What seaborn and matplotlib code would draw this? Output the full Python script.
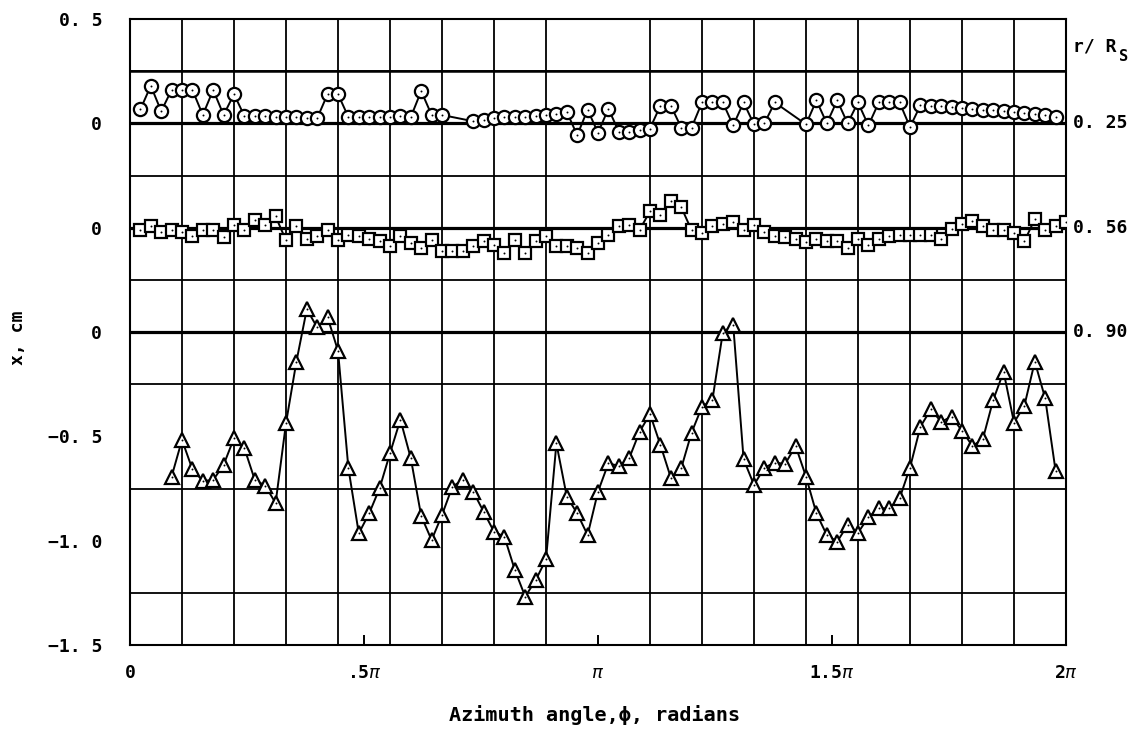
import numpy as np
import matplotlib
matplotlib.use('Agg')
import matplotlib.pyplot as plt
from matplotlib.ticker import MultipleLocator
import seaborn as sns

sns.set_style('white')
plt.rcParams['font.family'] = ['DejaVu Sans Mono', 'DejaVu Sans']
plt.rcParams['text.color'] = 'black'
plt.rcParams['axes.labelcolor'] = 'black'
plt.rcParams['xtick.color'] = 'black'
plt.rcParams['ytick.color'] = 'black'

# r/Rs = 0.25 (circles), azimuth in degrees, x in cm
circ_deg = list(range(4, 121, 4)) + list(range(132, 249, 4)) + list(range(260, 357, 4))
circ_x = [0.067, 0.18, 0.058, 0.16, 0.16, 0.16, 0.04, 0.16, 0.04, 0.14,
          0.035, 0.035, 0.035, 0.03, 0.03, 0.03, 0.025, 0.025, 0.14, 0.14,
          0.03, 0.03, 0.03, 0.03, 0.03, 0.035, 0.03, 0.155, 0.04, 0.04,
          0.01, 0.015, 0.025, 0.03, 0.03, 0.03, 0.035, 0.04, 0.045, 0.055,
          -0.057, 0.065, -0.045, 0.07, -0.04, -0.04, -0.03, -0.025, 0.085, 0.085,
          -0.02, -0.02, 0.1, 0.1, 0.1, -0.01, 0.1, -0.005, 0.0, 0.1,
          -0.005, 0.11, 0.0, 0.11, 0.0, 0.1, -0.01, 0.1, 0.1, 0.1,
          -0.018, 0.086, 0.081, 0.081, 0.078, 0.075, 0.07, 0.066, 0.062, 0.057,
          0.054, 0.05, 0.046, 0.038, 0.03]

# r/Rs = 0.56 (squares)
sq_deg = list(range(4, 361, 4))
sq_x = [-0.013, 0.006, -0.021, -0.013, -0.021, -0.038, -0.013, -0.01, -0.045, 0.014,
        -0.013, 0.038, 0.014, 0.054, -0.061, 0.006, -0.054, -0.042, -0.013, -0.061,
        -0.034, -0.042, -0.054, -0.065, -0.09, -0.042, -0.073, -0.097, -0.061, -0.113,
        -0.113, -0.113, -0.09, -0.066, -0.081, -0.121, -0.061, -0.121, -0.066, -0.042,
        -0.09, -0.09, -0.097, -0.121, -0.073, -0.034, 0.006, 0.014, -0.01, 0.078,
        0.062, 0.126, 0.099, -0.013, -0.025, 0.006, 0.019, 0.025, -0.013, 0.014,
        -0.023, -0.042, -0.045, -0.054, -0.07, -0.054, -0.066, -0.066, -0.097, -0.054,
        -0.081, -0.054, -0.042, -0.034, -0.034, -0.034, -0.034, -0.054, -0.006, 0.019,
        0.03, 0.01, -0.013, -0.01, -0.025, -0.066, 0.042, -0.013, 0.006, 0.025]

# r/Rs = 0.90 (triangles)
tri_deg = list(range(16, 357, 4))
tri_x = [-0.693, -0.517, -0.658, -0.714, -0.709, -0.637, -0.509, -0.557, -0.709, -0.736,
         -0.82, -0.437, -0.142, 0.109, 0.022, 0.07, -0.09, -0.653, -0.965, -0.869,
         -0.749, -0.581, -0.42, -0.605, -0.882, -0.997, -0.877, -0.741, -0.709, -0.765,
         -0.861, -0.957, -0.981, -1.14, -1.268, -1.19, -1.09, -0.534, -0.789, -0.869,
         -0.973, -0.765, -0.629, -0.642, -0.605, -0.478, -0.393, -0.541, -0.698, -0.653,
         -0.482, -0.358, -0.326, -0.003, 0.034, -0.61, -0.733, -0.65, -0.626, -0.632,
         -0.546, -0.693, -0.869, -0.973, -1.005, -0.925, -0.962, -0.888, -0.845, -0.845,
         -0.797, -0.65, -0.454, -0.371, -0.43, -0.406, -0.473, -0.546, -0.514, -0.326,
         -0.19, -0.434, -0.353, -0.142, -0.318, -0.666]

radius_labels = ['0. 25', '0. 56', '0. 90']
offsets = [1.0, 0.5, 0.0]
markers = ['o', 's', '^']
msizes = [9.5, 8, 10]

x_tick_labels = ['0', '.5$\\pi$', '$\\pi$', '1.5$\\pi$', '2$\\pi$']
y_tick_labels = ['\u22121. 5', '\u22121. 0', '\u22120. 5', '0', '0', '0', '0. 5']

fig = plt.figure(figsize=(11.3, 7.46), dpi=100)
ax = fig.add_axes([130 / 1130, 1 - 645 / 746, 936 / 1130, 626 / 746])

# grid
ax.xaxis.set_minor_locator(MultipleLocator(np.pi / 9))
ax.yaxis.set_minor_locator(MultipleLocator(0.25))
ax.grid(which='minor', color='black', linewidth=1.3, zorder=1)
ax.grid(which='major', visible=False)
for off in offsets:
    ax.axhline(off, color='black', linewidth=2.3, zorder=1.5)
ax.axhline(1.25, color='black', linewidth=1.8, zorder=1.5)

series = [(circ_deg, circ_x), (sq_deg, sq_x), (tri_deg, tri_x)]
for (deg, vals), off, mk, ms in zip(series, offsets, markers, msizes):
    phi = np.radians(deg)
    y = np.array(vals) + off
    sns.lineplot(x=phi, y=y, ax=ax, color='black', linewidth=1.4,
                 marker=mk, markersize=ms, markerfacecolor='white',
                 markeredgecolor='black', markeredgewidth=1.6,
                 estimator=None, sort=False, zorder=3)
    sns.scatterplot(x=phi, y=y, ax=ax, color='black', s=2, linewidth=0, zorder=4)

ax.set_xlim(0, 2 * np.pi)
ax.set_ylim(-1.5, 1.5)
ax.set_xticks([0, np.pi / 2, np.pi, 1.5 * np.pi, 2 * np.pi])
ax.set_xticklabels(x_tick_labels)
ax.set_yticks([-1.5, -1.0, -0.5, 0, 0.5, 1.0, 1.5])
ax.set_yticklabels(y_tick_labels)
ax.tick_params(axis='x', which='major', direction='in', length=7, width=1.4,
               pad=14, labelsize=13, bottom=True)
ax.tick_params(axis='x', which='minor', length=0)
ax.tick_params(axis='y', which='both', length=0, pad=20, labelsize=13)
for lab in ax.get_xticklabels() + ax.get_yticklabels():
    lab.set_fontweight('bold')
for sp in ax.spines.values():
    sp.set_color('black')
    sp.set_linewidth(1.5)

# right-hand radius labels
for off, lab in zip(offsets, radius_labels):
    ax.text(1.008, off, lab, transform=ax.get_yaxis_transform(), ha='left',
            va='center', fontsize=13, fontweight='bold')
ax.text(1.008, 1.37, 'r/ R', transform=ax.get_yaxis_transform(), ha='left',
        va='center', fontsize=13, fontweight='bold')
ax.text(1.057, 1.32, 'S', transform=ax.get_yaxis_transform(), ha='left',
        va='center', fontsize=11, fontweight='bold')

ax.set_xlabel('Azimuth angle,\u03d5, radians', fontsize=14.5, fontweight='bold')
ax.xaxis.set_label_coords(0.496, -0.112)
ax.xaxis.label.set_va('center')
ax.set_ylabel('x, cm', fontsize=13, fontweight='bold')
ax.yaxis.set_label_coords(-0.12, 0.49)
ax.yaxis.label.set_va('center')

fig.savefig('out.png', dpi=100)
